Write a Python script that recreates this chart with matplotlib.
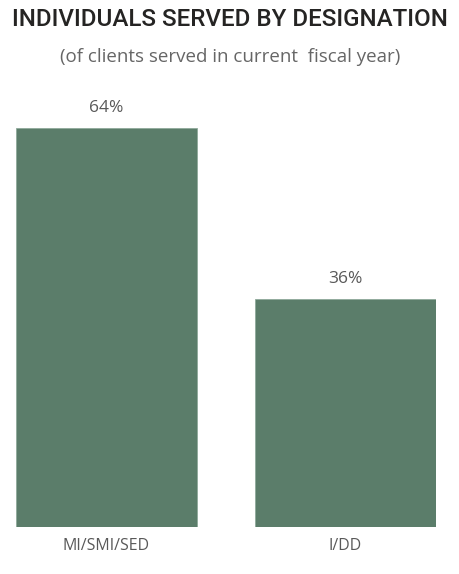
import matplotlib
matplotlib.use("Agg")
import matplotlib.pyplot as plt

categories = ["MI/SMI/SED", "I/DD"]
shares = [63.6, 36.4]

title = "INDIVIDUALS SERVED BY DESIGNATION"
subtitle = "(of clients served in current  fiscal year)"

barColor = "#5b7d6a"
textColor = "#595959"

fig = plt.figure(figsize=(4.6, 5.74), dpi=100)
ax = fig.add_axes([16 / 460, 47 / 574, 420 / 460, 439 / 574])

x = range(len(categories))
bars = ax.bar(x, shares, width=0.757, color=barColor, edgecolor="#8fa99a", linewidth=0.6)

for b, v in zip(bars, shares):
    ax.text(b.get_x() + b.get_width() / 2, v + 1.9, "{:.0f}%".format(v),
            ha="center", va="bottom", fontsize=12.5, color=textColor, family="Open Sans")

ax.set_xlim(-0.3787, 1.3787)
ax.set_ylim(0, 70)
ax.set_xticks(list(x))
ax.set_xticklabels(categories, fontsize=11.5, color=textColor, family="Open Sans")
ax.tick_params(axis="x", length=0, pad=8)
ax.set_yticks([])
for s in ax.spines.values():
    s.set_visible(False)

fig.text(0.5, 1 - 20 / 574, title, ha="center", va="center", fontsize=17.4,
         color="#252423", family="Roboto", weight="medium")
fig.text(0.5, 1 - 57 / 574, subtitle, ha="center", va="center", fontsize=13.5,
         color="#666666", family="Open Sans")

fig.savefig("out.png", dpi=100)
